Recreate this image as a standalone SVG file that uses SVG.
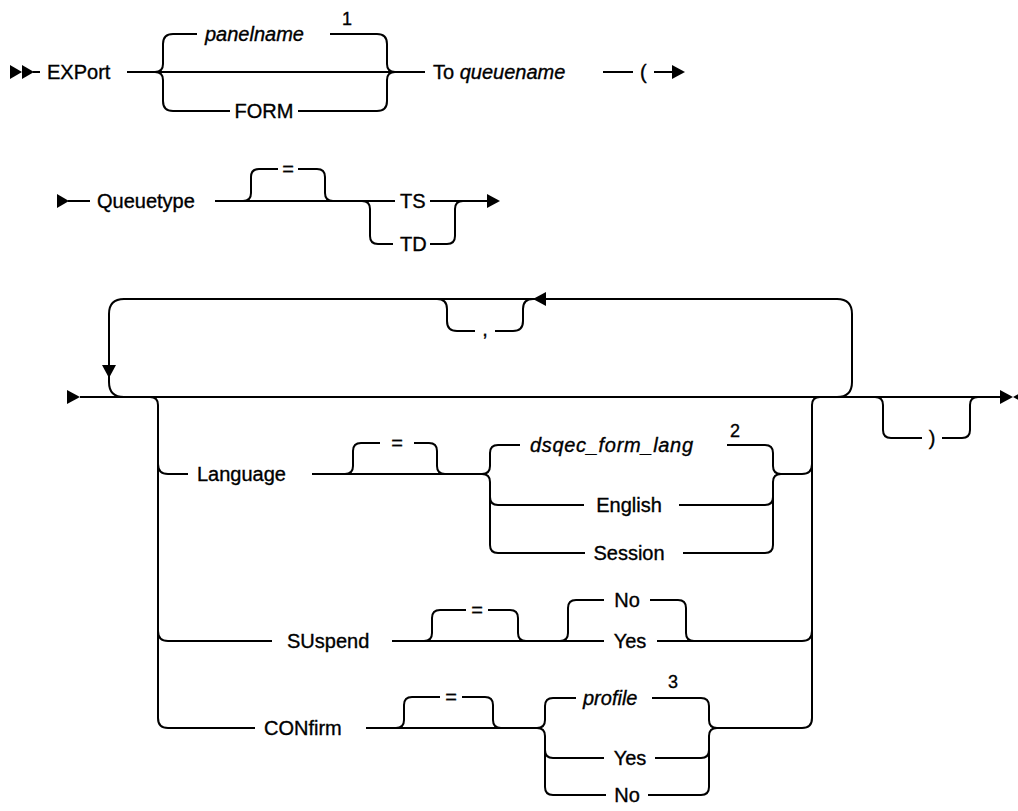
<svg xmlns="http://www.w3.org/2000/svg" width="1018" height="811" viewBox="0 0 1018 811">
<style>
.ln{fill:none;stroke:#000;stroke-width:2}
.ah{fill:#000;stroke:none}
text{font-family:"Liberation Sans",Arial,sans-serif;font-size:20px;fill:#000;stroke:#000;stroke-width:0.35}
.it{font-style:italic}
.sup{font-size:18px}
</style>
<rect width="1018" height="811" fill="#fff"/>
<g id="connectors">
<!-- row 1 -->
<path class="ln" d="M33,72 H40 M127,72 H425"/>
<path class="ln" d="M155,72 Q163,72 163,64 V44 Q163,34 173,34 H197 M330,34 H377 Q387,34 387,44 V64 Q387,72 395,72"/>
<path class="ln" d="M155,72 Q163,72 163,80 V101 Q163,111 173,111 H230 M298,111 H377 Q387,111 387,101 V80 Q387,72 395,72"/>
<path class="ln" d="M603,72 H633 M654,72 H675"/>
<polygon class="ah" points="10,65 10,79 22,72"/>
<polygon class="ah" points="22,65 22,79 34,72"/>
<polygon class="ah" points="672,65 672,79 685,72"/>
<!-- row 2 -->
<path class="ln" d="M68,201 H90 M215,201 H395 M430,201 H490"/>
<path class="ln" d="M243,201 Q251,201 251,193 V177 Q251,169 259,169 H278 M298,169 H317 Q325,169 325,177 V193 Q325,201 333,201"/>
<path class="ln" d="M362,201 Q370,201 370,209 V236 Q370,244 378,244 H393 M430,244 H447 Q455,244 455,236 V209 Q455,201 463,201"/>
<polygon class="ah" points="57,194 57,208 69,201"/>
<polygon class="ah" points="487,194 487,208 500,201"/>
<!-- row 3 main + loop -->
<path class="ln" d="M80,397 H1001"/>
<path class="ln" d="M837,397 Q852,397 852,382 V314 Q852,299 837,299 H124 Q109,299 109,314 V382 Q109,397 124,397"/>
<path class="ln" d="M437,299 Q447,299 447,309 V321 Q447,331 457,331 H475 M495,331 H513 Q523,331 523,321 V309 Q523,299 533,299"/>
<polygon class="ah" points="67,390 67,404 80,397"/>
<polygon class="ah" points="102,365 116,365 109,378"/>
<polygon class="ah" points="546,292 546,306 533,299"/>
<!-- choice verticals -->
<path class="ln" d="M150,397 Q158,397 158,405 V718 Q158,728 168,728 H255"/>
<path class="ln" d="M820,397 Q812,397 812,405 V718 Q812,728 802,728"/>
<!-- Language -->
<path class="ln" d="M158,464 Q158,474 168,474 H188 M312,474 H482"/>
<path class="ln" d="M345,474 Q353,474 353,466 V451 Q353,443 361,443 H380 M414,443 H429 Q437,443 437,451 V466 Q437,474 445,474"/>
<path class="ln" d="M482,474 Q490,474 490,466 V453 Q490,445 498,445 H520 M727,445 H765 Q773,445 773,453 V466 Q773,474 781,474 H802 Q812,474 812,464"/>
<path class="ln" d="M482,474 Q490,474 490,482 V545 Q490,553 498,553 H585 M683,553 H765 Q773,553 773,545 V482 Q773,474 781,474"/>
<path class="ln" d="M490,497 Q490,505 498,505 H584 M679,505 H765 Q773,505 773,497"/>
<!-- SUspend -->
<path class="ln" d="M158,631 Q158,641 168,641 H272 M392,641 H604 M657,641 H802 Q812,641 812,631"/>
<path class="ln" d="M424,641 Q432,641 432,633 V618 Q432,610 440,610 H466 M488,610 H510 Q518,610 518,618 V633 Q518,641 526,641"/>
<path class="ln" d="M560,641 Q568,641 568,633 V608 Q568,600 576,600 H604 M650,600 H678 Q686,600 686,608 V633 Q686,641 694,641"/>
<!-- CONfirm -->
<path class="ln" d="M366,728 H537"/>
<path class="ln" d="M396,728 Q404,728 404,720 V705 Q404,697 412,697 H440 M462,697 H485 Q493,697 493,705 V720 Q493,728 501,728"/>
<path class="ln" d="M537,728 Q545,728 545,720 V706 Q545,698 553,698 H576 M652,698 H701 Q709,698 709,706 V720 Q709,728 717,728 H802"/>
<path class="ln" d="M537,728 Q545,728 545,736 V787 Q545,795 553,795 H606 M648,795 H701 Q709,795 709,787 V736 Q709,728 717,728"/>
<path class="ln" d="M545,750 Q545,758 553,758 H604 M655,758 H701 Q709,758 709,750"/>
<!-- close paren bypass -->
<path class="ln" d="M875,397 Q883,397 883,405 V430 Q883,438 891,438 H922 M942,438 H962 Q970,438 970,430 V405 Q970,397 978,397"/>
<polygon class="ah" points="1000,390 1000,404 1013,397"/>
<polygon class="ah" points="1026,390 1026,404 1013,397"/>
</g>
<g id="n-export"><text x="47" y="79">EXPort</text></g>
<g id="n-panelname"><text class="it" x="205" y="41">panelname</text><text class="sup" x="342" y="25">1</text></g>
<g id="n-form"><text x="264" y="118" text-anchor="middle">FORM</text></g>
<g id="n-to"><text x="433" y="79">To <tspan class="it">queuename</tspan></text></g>
<g id="n-paren-open"><text x="640" y="79">(</text></g>
<g id="n-queuetype"><text x="97" y="208">Queuetype</text></g>
<g id="n-eq1"><text x="288" y="176" text-anchor="middle">=</text></g>
<g id="n-ts"><text x="400" y="208">TS</text></g>
<g id="n-td"><text x="400" y="251">TD</text></g>
<g id="n-comma"><text x="485" y="336" text-anchor="middle">,</text></g>
<g id="n-language"><text x="197" y="481">Language</text></g>
<g id="n-eq2"><text x="397" y="450" text-anchor="middle">=</text></g>
<g id="n-dsqec"><text class="it" x="530" y="452" textLength="163" lengthAdjust="spacing">dsqec_form_lang</text><text class="sup" x="730" y="437">2</text></g>
<g id="n-english"><text x="629" y="512" text-anchor="middle">English</text></g>
<g id="n-session"><text x="629" y="560" text-anchor="middle">Session</text></g>
<g id="n-suspend"><text x="287" y="648">SUspend</text></g>
<g id="n-eq3"><text x="477" y="617" text-anchor="middle">=</text></g>
<g id="n-no1"><text x="627" y="607" text-anchor="middle">No</text></g>
<g id="n-yes1"><text x="630" y="648" text-anchor="middle">Yes</text></g>
<g id="n-confirm"><text x="264" y="735">CONfirm</text></g>
<g id="n-eq4"><text x="451" y="704" text-anchor="middle">=</text></g>
<g id="n-profile"><text class="it" x="583" y="705">profile</text><text class="sup" x="668" y="688">3</text></g>
<g id="n-yes2"><text x="630" y="765" text-anchor="middle">Yes</text></g>
<g id="n-no2"><text x="627" y="802" text-anchor="middle">No</text></g>
<g id="n-paren-close"><text x="932" y="445" text-anchor="middle">)</text></g>
</svg>
